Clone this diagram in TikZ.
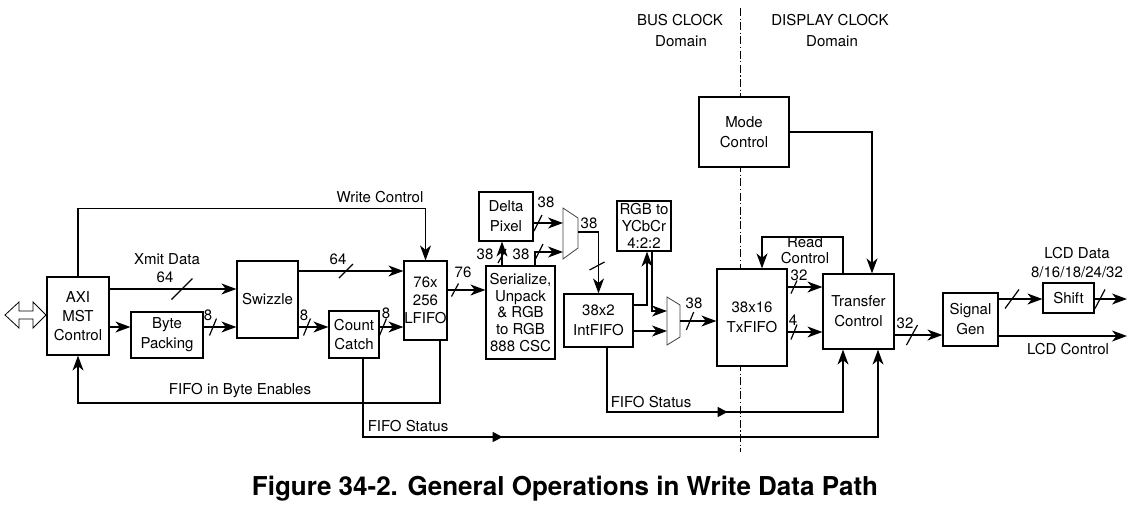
\documentclass[tikz,border=0pt]{standalone}
\usepackage{fontspec}
\setmainfont{TeX Gyre Heros}
\usetikzlibrary{arrows.meta,decorations.markings,calc}
\begin{document}
\begin{tikzpicture}[x=1pt,y=-1pt, line width=1.2pt,
  box/.style={draw, fill=white, inner sep=0pt, align=center, font=\fontsize{15}{20}\selectfont},
  arr/.style={-{Stealth[length=15pt,width=11pt,inset=4.5pt]}},
  lbl/.style={inner sep=0pt, align=center, font=\fontsize{15}{17}\selectfont},
  mux/.style={line width=0.8pt, draw=black!75},
  pics/bus/.style 2 args={code={\draw (-#1,#2) -- (#1,-#2);}},
  midarr/.style={postaction={decorate}, decoration={markings, mark=at position #1 with {\arrow{Triangle[length=10pt,width=10pt]}}}}
]
\useasboundingbox (0,0) rectangle (1135,509);

% clock domain separator
\coordinate (dtop) at (740,8);
\coordinate (dbot) at (740,452);
\draw[line width=0.8pt, dash pattern=on 8pt off 2.5pt on 1.2pt off 2.5pt] (dtop) -- (dbot);
\node[lbl] (busc) at (680,20) {BUS CLOCK};
\node[lbl] (busd) at (681,41) {Domain};
\node[lbl] (disc) at (830,20) {DISPLAY CLOCK};
\node[lbl] (disd) at (832,41) {Domain};

% boxes
\node[box, minimum width=62pt, minimum height=78pt, font=\fontsize{15}{19}\selectfont] (axi) at (78,316) {AXI\\MST\\Control};
\node[box, minimum width=72pt, minimum height=46pt] (byte) at (167,335) {Byte\\Packing};
\node[box, minimum width=61pt, minimum height=77pt] (swz) at (267.5,299.5) {Swizzle};
\node[box, minimum width=50pt, minimum height=47pt, font=\fontsize{15}{18.5}\selectfont] (cnt) at (354,334.5) {Count\\Catch};
\node[box, minimum width=43pt, minimum height=79pt, font=\fontsize{15}{18.3}\selectfont] (lfifo) at (425.5,300.5) {76x\\256\\LFIFO};
\node[box, minimum width=54pt, minimum height=49pt] (delta) at (506,216.5) {Delta\\Pixel};
\node[box, minimum width=69pt, minimum height=93pt, font=\fontsize{15}{16.7}\selectfont] (ser) at (520.5,312.5) {Serialize,\\Unpack\\\& RGB\\to RGB\\888 CSC};
\node[box, minimum width=69pt, minimum height=53pt] (int) at (598.5,320.5) {38x2\\IntFIFO};
\node[box, minimum width=54pt, minimum height=50pt, font=\fontsize{15}{16.7}\selectfont] (rgb) at (644,226) {RGB to\\YCbCr\\4:2:2};
\node[box, minimum width=70pt, minimum height=97pt] (tx) at (752,317.5) {38x16\\TxFIFO};
\node[box, minimum width=90pt, minimum height=70pt] (mode) at (744,132) {Mode\\Control};
\node[box, minimum width=71pt, minimum height=75pt] (tc) at (858.5,311.5) {Transfer\\Control};
\node[box, minimum width=55pt, minimum height=53pt] (sg) at (970.5,319.5) {Signal\\Gen};
\node[box, minimum width=51pt, minimum height=30pt] (shift) at (1068.5,298) {Shift};

% bidirectional bus arrow
\draw[line width=0.8pt] (5,315) -- (19,302) -- (19,311) -- (33,311) -- (33,302) -- (46,315)
  -- (33,328) -- (33,319) -- (19,319) -- (19,328) -- cycle;

% row coordinates
\coordinate (r289) at (0,289);
\coordinate (r327) at (0,327);
\coordinate (r271) at (0,271);
\coordinate (r290) at (0,290);
\coordinate (r287) at (0,287);
\coordinate (r332) at (0,332);
\coordinate (r335) at (0,335);
\coordinate (r299) at (0,299);
\coordinate (r336) at (0,336);

% Write Control
\draw[arr] (axi.north) -- ++(0,-68) -| (lfifo.north);
\node[lbl] (wcl) at (380,197) {Write Control};

% Xmit Data
\draw[arr] (axi.east |- r289) -- (swz.west |- r289);
\pic at (182,289) {bus={10.5}{10.5}};
\node[lbl] (xdl) at (167,259) {Xmit Data};
\node[lbl] (xdn) at (165,277) {64};

% AXI -> Byte Packing -> Swizzle
\draw[arr] (axi.east |- r327) -- (byte.west |- r327);
\draw[arr] (byte.east |- r327) -- (swz.west |- r327);
\pic at (213,327) {bus={3.5}{8.5}};
\node[lbl] (l8a) at (208,315) {8};

% Swizzle -> LFIFO (64)
\draw[arr] (swz.east |- r271) -- (lfifo.west |- r271);
\pic at (346,271) {bus={7}{7}};
\node[lbl] (l64b) at (338,259) {64};

% Swizzle -> Count Catch -> LFIFO
\draw[arr] (swz.east |- r327) -- (cnt.west |- r327);
\pic at (307,327) {bus={3.5}{8.5}};
\node[lbl] (l8b) at (304,315) {8};
\draw[arr] (cnt.east |- r327) -- (lfifo.west |- r327);
\pic at (383,327) {bus={3.5}{8.5}};
\node[lbl] (l8c) at (386,313) {8};

% FIFO in Byte Enables
\coordinate (fbe) at (440,403);
\draw[arr] (lfifo.south -| fbe) |- (axi.south |- fbe) -- (axi.south);
\node[lbl] (fbel) at (240,391) {FIFO in Byte Enables};

% FIFO Status from Count Catch
\coordinate (fs1a) at (363,437);
\coordinate (fs1b) at (878,437);
\draw[arr, midarr=218pt] (cnt.south -| fs1a) -- (fs1a) -- (fs1b) -- (tc.south -| fs1b);
\node[lbl] (fs1l) at (408,426) {FIFO Status};

% LFIFO -> Serialize
\draw[arr] (lfifo.east |- r290) -- (ser.west |- r290);
\pic at (455,290) {bus={3.5}{6.5}};
\node[lbl] (l76) at (463,272) {76};

% Serialize -> Delta Pixel
\coordinate (c502) at (502,0);
\draw[arr] (ser.north -| c502) -- (delta.south -| c502);
\pic at (502,256) {bus={4}{7}};
\node[lbl] (l38a) at (485,254) {38};

% mux 1
\coordinate (m1a) at (563,208);
\coordinate (m1b) at (578,218);
\coordinate (m1c) at (578,248);
\coordinate (m1d) at (563,259);
\draw[mux] (m1a) -- (m1b) -- (m1c) -- (m1d) -- cycle;
\coordinate (m1i1) at (563,223);
\coordinate (m1i2) at (563,252);
\coordinate (m1o) at (578,232);

\draw[arr] (delta.east |- m1i1) -- (m1i1);
\pic at (538,223) {bus={4}{8}};
\node[lbl] (l38b) at (546,202) {38};

\coordinate (c535) at (535,0);
\draw[arr] (ser.north -| c535) |- (m1i2);
\pic at (539,252) {bus={4}{8}};
\node[lbl] (l38c) at (521,254) {38};

% mux1 -> IntFIFO
\draw[arr] (m1o) -| (int.north);
\pic at (597,266) {bus={7.5}{4}};
\node[lbl] (l38d) at (589,223) {38};

% IntFIFO -> RGB to YCbCr
\coordinate (c647) at (647,305);
\draw[arr] (int.east |- c647) -| (rgb.south -| c647);

% mux 2
\coordinate (m2a) at (667,297);
\coordinate (m2b) at (680,305);
\coordinate (m2c) at (680,337);
\coordinate (m2d) at (667,345);
\draw[mux] (m2a) -- (m2b) -- (m2c) -- (m2d) -- cycle;
\coordinate (m2i1) at (667,311);
\coordinate (m2i2) at (667,331);
\coordinate (m2o) at (680,321);

\coordinate (c652) at (652,0);
\draw[arr] (rgb.south -| c652) |- (m2i1);
\draw[arr] (int.east |- m2i2) -- (m2i2);

% mux2 -> TxFIFO
\draw[arr] (m2o) -- (tx.west |- m2o);
\pic at (690,321) {bus={3.7}{9}};
\node[lbl] (l38e) at (694,303) {38};

% FIFO Status from IntFIFO
\coordinate (fs2a) at (607,412);
\coordinate (fs2b) at (843,412);
\draw[arr, midarr=185pt] (int.south -| fs2a) -- (fs2a) -- (fs2b) -- (tc.south -| fs2b);
\node[lbl] (fs2l) at (651,402) {FIFO Status};

% Mode Control -> Transfer Control
\coordinate (c872) at (872,0);
\draw[arr] (mode.east) -| (tc.north -| c872);

% Read Control
\coordinate (c843) at (843,0);
\coordinate (rc) at (762,237);
\draw[arr] (tc.north -| c843) |- (rc) -- (tx.north -| rc);
\node[lbl, font=\fontsize{15}{16}\selectfont] (rcl) at (805,250) {Read\\Control};

% TxFIFO -> Transfer Control
\draw[arr] (tx.east |- r287) -- (tc.west |- r287);
\pic at (794,287) {bus={3}{6.5}};
\node[lbl] (l32a) at (799,275) {32};
\draw[arr] (tx.east |- r332) -- (tc.west |- r332);
\pic at (794,332) {bus={3}{7.5}};
\node[lbl] (l4) at (793,320) {4};

% Transfer Control -> Signal Gen
\draw[arr] (tc.east |- r335) -- (sg.west |- r335);
\pic at (912,335) {bus={5.5}{10}};
\node[lbl] (l32b) at (905,323) {32};

% Signal Gen -> Shift -> out
\coordinate (lcdo) at (1127,299);
\draw[arr] (sg.east |- r299) -- (shift.west |- r299);
\pic at (1012,299) {bus={7}{9.5}};
\draw[arr] (shift.east |- r299) -- (lcdo);
\pic at (1100,299) {bus={5}{9.5}};
\node[lbl] (lcdd) at (1077,253) {LCD Data};
\node[lbl] (lcdw) at (1077,272) {8/16/18/24/32};

% Signal Gen -> LCD Control
\coordinate (lcco) at (1127,336);
\draw[arr] (sg.east |- r336) -- (lcco);
\node[lbl] (lccl) at (1068,349) {LCD Control};

% title
\node[inner sep=0pt, font=\fontsize{26}{30}\bfseries] (title) at (565,489) {Figure 34-2. General Operations in Write Data Path};
\end{tikzpicture}
\end{document}
